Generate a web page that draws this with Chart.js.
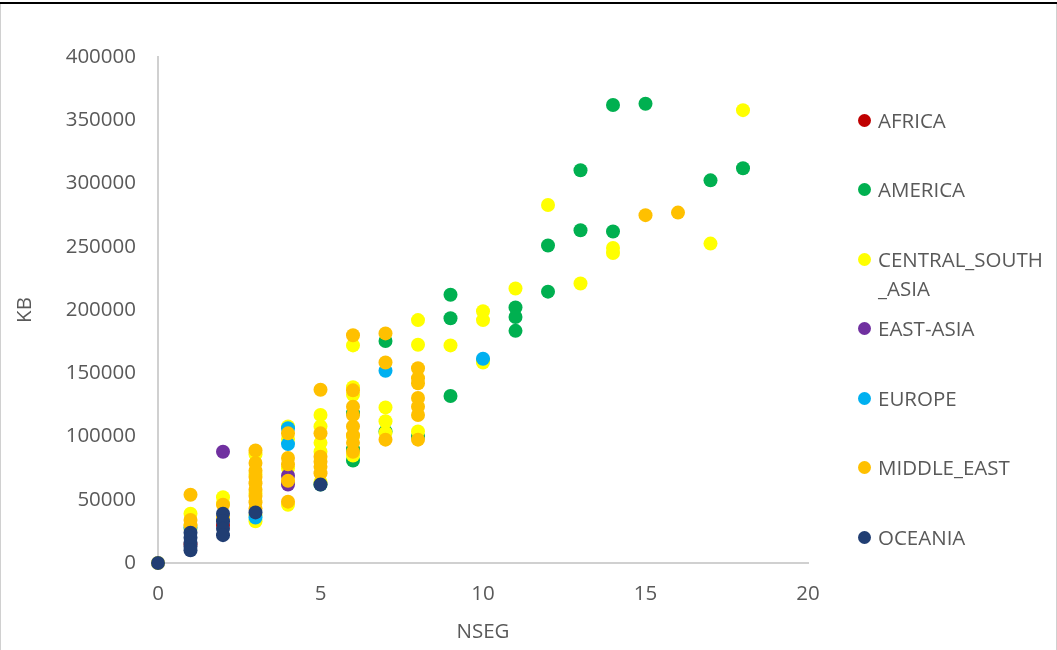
<!DOCTYPE html>
<html>
<head>
<meta charset="utf-8">
<script src="https://cdn.jsdelivr.net/npm/chart.js@4/dist/chart.umd.min.js"></script>
<style>
  html, body { margin: 0; padding: 0; background: #fff; }
  #wrap { position: relative; width: 1057px; height: 650px; overflow: hidden; font-family: "Open Sans", sans-serif; }
  #chart { position: absolute; left: 0; top: 0; }
  .frame { position: absolute; }
  #legend { position: absolute; left: 0; top: 0; }
  .item { position: absolute; left: 878px; width: 178px; font-size: 20.5px; line-height: 29px; color: #595959; }
  .dot { position: absolute; left: 858px; width: 13px; height: 13px; border-radius: 50%; }
</style>
</head>
<body>
<div id="wrap">
  <canvas id="chart" width="1057" height="650"></canvas>
  <div class="frame" style="left:0;top:2px;width:1057px;height:2px;background:#000"></div>
  <div class="frame" style="left:0;top:4px;width:1px;height:646px;background:#d0d0d0"></div>
  <div class="frame" style="left:1056px;top:4px;width:1px;height:646px;background:#d0d0d0"></div>
  <div id="legend"></div>
</div>
<script>
// values: [NSEG, KB]
const africa = [[1, 15000], [2, 30000]];
const america = [[14, 362000], [15, 363000], [13, 310500], [18, 312000], [17, 302500], [13, 263000],
  [14, 262000], [12, 251000], [12, 214500], [9, 212000], [9, 193500], [11, 202000], [11, 194500],
  [11, 183500], [10, 160000], [9, 132000], [7, 175500], [7, 104000], [8, 100000], [6, 81000],
  [6, 118500], [6, 90000], [5, 62000]];
const centralSouthAsia = [[18, 358000], [12, 283000], [14, 249000], [14, 245000], [13, 221000],
  [17, 252500], [11, 217000], [10, 199000], [10, 192000], [10, 158500], [9, 172000], [8, 192000],
  [8, 172500], [8, 104000], [7, 123000], [7, 112000], [7, 103000], [6, 172000], [6, 139000],
  [6, 133000], [6, 100000], [6, 85000], [5, 117000], [5, 108000], [5, 95000], [5, 88000],
  [5, 64000], [4, 108000], [4, 98000], [4, 75000], [4, 64000], [4, 46000], [3, 33000],
  [3, 38000], [3, 55000], [3, 70000], [3, 86000], [2, 52000], [2, 47000], [1, 39000],
  [1, 30000], [1, 27000], [0, 0]];
const eastAsia = [[2, 88000], [4, 69000], [4, 62000]];
const europe = [[4, 106500], [4, 94000], [7, 152000], [3, 36000], [1, 28000], [10, 161500]];
const middleEast = [[15, 275000], [16, 277000], [8, 154000], [8, 146000], [8, 142000], [8, 130500],
  [8, 123500], [8, 117000], [8, 97500], [7, 181500], [7, 158500], [7, 97500], [6, 180000],
  [6, 136500], [6, 123500], [6, 117000], [6, 108000], [6, 101000], [6, 95000], [6, 88000],
  [5, 137000], [5, 102500], [5, 84000], [5, 80000], [5, 76000], [5, 71000], [4, 102500],
  [4, 83000], [4, 78000], [4, 65000], [4, 48500], [3, 89000], [3, 79000], [3, 73000], [3, 68000],
  [3, 63000], [3, 58000], [3, 53000], [3, 48000], [3, 43000], [2, 46000], [2, 36000],
  [1, 54000], [1, 34000], [1, 30000]];
const oceania = [[0, 0], [1, 24000], [1, 20000], [1, 16000], [1, 13000], [1, 10000], [2, 39000],
  [2, 33000], [2, 27000], [2, 22000], [3, 40000], [5, 62000]];

const seriesNames = ["AFRICA", "AMERICA", "CENTRAL_SOUTH_ASIA", "EAST-ASIA", "EUROPE", "MIDDLE_EAST", "OCEANIA"];
const seriesData = [africa, america, centralSouthAsia, eastAsia, europe, middleEast, oceania];
const seriesColors = ["#C00000", "#00B050", "#FFFF00", "#7030A0", "#00B0F0", "#FFC000", "#213E73"];

const xTicks = [0, 5, 10, 15, 20];
const yTicks = [0, 50000, 100000, 150000, 200000, 250000, 300000, 350000, 400000];

const textColor = "#595959";
const font = { family: "'Open Sans', sans-serif", size: 20.5 };

const datasets = seriesNames.map((name, i) => ({
  label: name,
  data: seriesData[i].map(p => ({ x: p[0], y: p[1] })),
  backgroundColor: seriesColors[i],
  borderWidth: 0,
  pointRadius: 7,
  pointHoverRadius: 7,
  clip: false,
  order: seriesNames.length - 1 - i   // later series painted on top, like the original
}));

new Chart(document.getElementById("chart"), {
  type: "scatter",
  data: { datasets },
  options: {
    responsive: false,
    animation: false,
    layout: { padding: { left: 0, right: 249, top: 57, bottom: 0 } },
    plugins: { legend: { display: false }, tooltip: { enabled: false } },
    scales: {
      x: {
        min: xTicks[0], max: xTicks[xTicks.length - 1],
        afterFit: s => { s.height = 87; },
        afterBuildTicks: s => { s.ticks = xTicks.map(v => ({ value: v })); },
        ticks: { color: textColor, font, padding: 19 },
        grid: { display: false, drawTicks: false },
        border: { color: "#d0d0d0", width: 2 },
        title: { display: true, text: "NSEG", color: textColor, font, padding: { top: 0, bottom: 6 } }
      },
      y: {
        min: yTicks[0], max: yTicks[yTicks.length - 1],
        afterFit: s => { s.width = 158; },
        afterBuildTicks: s => { s.ticks = yTicks.map(v => ({ value: v })); },
        ticks: { color: textColor, font, padding: 22, callback: v => String(v) },
        grid: { display: false, drawTicks: false },
        border: { color: "#d0d0d0", width: 2 },
        title: { display: true, text: "KB", color: textColor, font, padding: { top: 13, bottom: 0 } }
      }
    }
  }
});

// legend on the right, built from the same series lists
const legend = document.getElementById("legend");
const legendTop = 120, legendStep = 69.5;
seriesNames.forEach((name, i) => {
  const cy = legendTop + i * legendStep;
  const dot = document.createElement("div");
  dot.className = "dot";
  dot.style.top = (cy - 6.5) + "px";
  dot.style.background = seriesColors[i];
  const item = document.createElement("div");
  item.className = "item";
  item.style.top = (cy - 14.5) + "px";
  item.innerHTML = name.replace("_ASIA", "<wbr>_ASIA");
  legend.appendChild(dot);
  legend.appendChild(item);
});
</script>
</body>
</html>
